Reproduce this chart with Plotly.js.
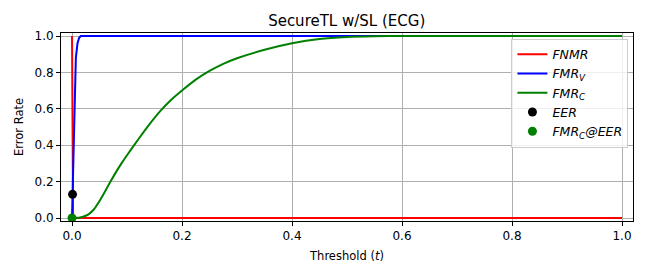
<!DOCTYPE html>
<html>
<head>
<meta charset="utf-8">
<script src="https://cdn.plot.ly/plotly-3.0.1.min.js"></script>
<style>html,body{margin:0;padding:0;background:#fff;}#chart{width:648px;height:278px;}</style>
</head>
<body>
<div id="chart"></div>
<script>
var thresholds = [0, 0.001, 0.002, 0.003, 0.005, 0.007, 0.01, 0.013, 0.016, 0.02, 0.03, 0.04, 0.05, 0.06, 0.07, 0.08, 0.09, 0.1, 0.12, 0.14, 0.16, 0.18, 0.2, 0.225, 0.25, 0.275, 0.3, 0.35, 0.4, 0.45, 0.5, 0.55, 0.6, 0.7, 0.8, 0.9, 1.0];
var fnmr = [1.0, 0.13, 0.02, 0.005, 0, 0, 0, 0, 0, 0, 0, 0, 0, 0, 0, 0, 0, 0, 0, 0, 0, 0, 0, 0, 0, 0, 0, 0, 0, 0, 0, 0, 0, 0, 0, 0, 0];
var fmrV = [0, 0.13, 0.25, 0.45, 0.75, 0.88, 0.96, 0.99, 1.0, 1.0, 1.0, 1.0, 1.0, 1.0, 1.0, 1.0, 1.0, 1.0, 1.0, 1.0, 1.0, 1.0, 1.0, 1.0, 1.0, 1.0, 1.0, 1.0, 1.0, 1.0, 1.0, 1.0, 1.0, 1.0, 1.0, 1.0, 1.0];
var fmrC = [0, 0, 0, 0, 0, 0, 0.001, 0.002, 0.004, 0.007, 0.02, 0.048, 0.093, 0.146, 0.2, 0.252, 0.3, 0.345, 0.43, 0.512, 0.586, 0.648, 0.70, 0.76, 0.808, 0.847, 0.878, 0.924, 0.96, 0.984, 0.995, 0.999, 1.0, 1.0, 1.0, 1.0, 1.0];
var eerT = [0.001];
var eerV = [0.13];
var fmrCAtEerT = [0.0];
var fmrCAtEerV = [0.0];

var traces = [
  {x: thresholds, y: fnmr, mode: 'lines', name: 'FNMR', line: {color: '#ff0000', width: 2}},
  {x: thresholds, y: fmrV, mode: 'lines', name: 'FMR<sub>V</sub>', line: {color: '#0000ff', width: 2}},
  {x: thresholds, y: fmrC, mode: 'lines', name: 'FMR<sub>C</sub>', line: {color: '#008000', width: 2, shape: 'spline', smoothing: 0.5}},
  {x: eerT, y: eerV, mode: 'markers', name: 'EER', marker: {color: '#000000', size: 9}},
  {x: fmrCAtEerT, y: fmrCAtEerV, mode: 'markers', name: 'FMR<sub>C</sub>@EER', marker: {color: '#008000', size: 9}}
];

var axisCommon = {
  showgrid: true, gridcolor: '#b0b0b0', gridwidth: 1,
  zeroline: false, showline: true, linecolor: '#000', linewidth: 1, mirror: true,
  ticks: 'outside', ticklen: 4, tickcolor: '#000', tickwidth: 1,
  tickfont: {family: 'DejaVu Sans', size: 12, color: '#000'}
};

var layout = {
  width: 648, height: 278,
  margin: {l: 61, r: 15, t: 33, b: 57},
  paper_bgcolor: '#fff', plot_bgcolor: '#fff',
  font: {family: 'DejaVu Sans', color: '#000'},
  title: {text: 'SecureTL w/SL (ECG)', font: {family: 'DejaVu Sans', size: 15, color: '#000'}, x: 0.535, xanchor: 'center', y: 0.925, yanchor: 'middle'},
  xaxis: Object.assign({}, axisCommon, {
    range: [-0.02, 1.02], tickvals: [0, 0.2, 0.4, 0.6, 0.8, 1.0], ticktext: ['0.0', '0.2', '0.4', '0.6', '0.8', '1.0'],
    title: {text: 'Threshold (<i>t</i>)', font: {family: 'DejaVu Sans', size: 11.5, color: '#000'}, standoff: 9}
  }),
  yaxis: Object.assign({}, axisCommon, {
    range: [-0.0165, 1.0165], tickvals: [0, 0.2, 0.4, 0.6, 0.8, 1.0], ticktext: ['0.0', '0.2', '0.4', '0.6', '0.8', '1.0'],
    title: {text: 'Error Rate', font: {family: 'DejaVu Sans', size: 11.5, color: '#000'}, standoff: 8}
  }),
  showlegend: true,
  legend: {
    x: 0.992, xanchor: 'right', y: 0.97, yanchor: 'top',
    bgcolor: 'rgba(255,255,255,0.8)', bordercolor: '#cccccc', borderwidth: 1,
    font: {family: 'DejaVu Sans', size: 12.5, color: '#000', style: 'italic'},
    itemwidth: 30, tracegroupgap: 0
  }
};

Plotly.newPlot('chart', traces, layout, {displayModeBar: false, staticPlot: true});
</script>
</body>
</html>
